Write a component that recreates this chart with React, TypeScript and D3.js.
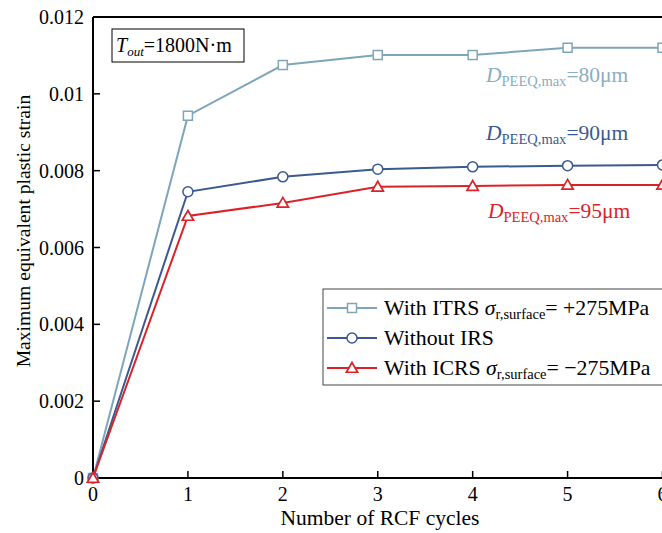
import React from "react";
import * as d3 from "d3";

const cycles = [0, 1, 2, 3, 4, 5, 6];
const itrs = [0, 0.00943, 0.01075, 0.01101, 0.01101, 0.0112, 0.0112];
const noIrs = [0, 0.00745, 0.00784, 0.00804, 0.0081, 0.00813, 0.00815];
const icrs = [0, 0.00682, 0.00716, 0.00758, 0.0076, 0.00763, 0.00763];
const yTicks = [0, 0.002, 0.004, 0.006, 0.008, 0.01, 0.012];
const yTickLabels = ["0", "0.002", "0.004", "0.006", "0.008", "0.01", "0.012"];

const FONT = "Liberation Serif, Times New Roman, Times, serif";

export default function App() {
  const width = 662;
  const height = 533;
  const m = { left: 93, top: 17, right: 0, bottom: 55 };
  const x = d3.scaleLinear().domain([0, 6]).range([m.left, 662.5]);
  const y = d3.scaleLinear().domain([0, 0.012]).range([478, m.top]);

  const series = [
    { name: "itrs", values: itrs, color: "#7fa5b9", marker: "square" },
    { name: "none", values: noIrs, color: "#3b5a90", marker: "circle" },
    { name: "icrs", values: icrs, color: "#db2229", marker: "triangle" },
  ];

  const line = d3
    .line<number>()
    .x((d, i) => x(cycles[i]))
    .y((d) => y(d));

  const marker = (type: string, cx: number, cy: number, color: string, key: string) => {
    if (type === "square")
      return <rect key={key} x={cx - 4.5} y={cy - 4.5} width={9} height={9} fill="white" stroke={color} strokeWidth={1.5} />;
    if (type === "circle")
      return <circle key={key} cx={cx} cy={cy} r={5} fill="white" stroke={color} strokeWidth={1.5} />;
    const p = d3.symbol().type(d3.symbolTriangle).size(55)();
    return <path key={key} d={p || ""} transform={`translate(${cx},${cy + 1})`} fill="white" stroke={color} strokeWidth={1.7} />;
  };

  const annot = [
    { x: 486, y: 82, color: "#8aaec0", val: "80" },
    { x: 486, y: 140, color: "#3b5a90", val: "90" },
    { x: 488, y: 218, color: "#db2229", val: "95" },
  ];

  const legend = [
    { s: series[0], y: 308, label: "itrs" },
    { s: series[1], y: 338, label: "none" },
    { s: series[2], y: 368, label: "icrs" },
  ];

  return (
    <svg width={width} height={height} style={{ position: "absolute", left: 0, top: 0, background: "white", fontFamily: FONT }}>
      {/* frame */}
      <line x1={m.left} x2={width} y1={m.top} y2={m.top} stroke="black" strokeWidth={2} />
      <line x1={m.left} x2={m.left} y1={m.top} y2={478} stroke="black" strokeWidth={2} />
      <line x1={m.left} x2={width} y1={478} y2={478} stroke="black" strokeWidth={2} />

      {/* x ticks */}
      {cycles.map((c) => (
        <g key={c}>
          <line x1={x(c)} x2={x(c)} y1={478} y2={471} stroke="black" strokeWidth={1.5} />
          <text x={x(c)} y={501} fontSize={20} textAnchor="middle">{c}</text>
        </g>
      ))}
      {/* y ticks */}
      {yTicks.map((t, i) => (
        <g key={t}>
          <line x1={m.left} x2={m.left + 7} y1={y(t)} y2={y(t)} stroke="black" strokeWidth={1.5} />
          <text x={84} y={y(t) + 7} fontSize={20} textAnchor="end">{yTickLabels[i]}</text>
        </g>
      ))}

      <text x={380} y={525} fontSize={21.5} textAnchor="middle">Number of RCF cycles</text>
      <text transform="translate(30,231) rotate(-90)" fontSize={19.6} textAnchor="middle">Maximum equivalent plastic strain</text>

      {/* lines */}
      {series.map((s) => (
        <g key={s.name}>
          <path d={line(s.values) || ""} fill="none" stroke={s.color} strokeWidth={2} />
          {s.values.map((v, i) => marker(s.marker, x(cycles[i]), y(v), s.color, s.name + i))}
        </g>
      ))}

      {/* Tout box */}
      <rect x={112} y={29} width={132} height={33} fill="white" stroke="black" strokeWidth={1} />
      <text x={116} y={52} fontSize={20}>
        <tspan fontStyle="italic">T</tspan>
        <tspan fontStyle="italic" fontSize={13} dy={4}>out</tspan>
        <tspan dy={-4}>=1800N·m</tspan>
      </text>

      {/* annotations */}
      {annot.map((a) => (
        <text key={a.val} x={a.x} y={a.y} fontSize={21.5} fill={a.color}>
          <tspan fontStyle="italic">D</tspan>
          <tspan fontSize={14.5} dy={4}>PEEQ,max</tspan>
          <tspan dy={-4}>={a.val}μm</tspan>
        </text>
      ))}

      {/* legend */}
      <rect x={323} y={289} width={345} height={96} fill="white" stroke="#444" strokeWidth={1} />
      {legend.map((l) => (
        <g key={l.label}>
          <line x1={327} x2={377} y1={l.y} y2={l.y} stroke={l.s.color} strokeWidth={2} />
          {marker(l.s.marker, 352, l.y, l.s.color, "lg" + l.label)}
        </g>
      ))}
      <text x={384} y={315} fontSize={21.8}>
        With ITRS <tspan fontStyle="italic">σ</tspan>
        <tspan fontSize={14.5} dy={4}>r,surface</tspan>
        <tspan dy={-4}>= +275MPa</tspan>
      </text>
      <text x={384} y={345} fontSize={21.8}>Without IRS</text>
      <text x={384} y={375} fontSize={21.8}>
        With ICRS <tspan fontStyle="italic">σ</tspan>
        <tspan fontSize={14.5} dy={4}>r,surface</tspan>
        <tspan dy={-4}>= −275MPa</tspan>
      </text>
    </svg>
  );
}
